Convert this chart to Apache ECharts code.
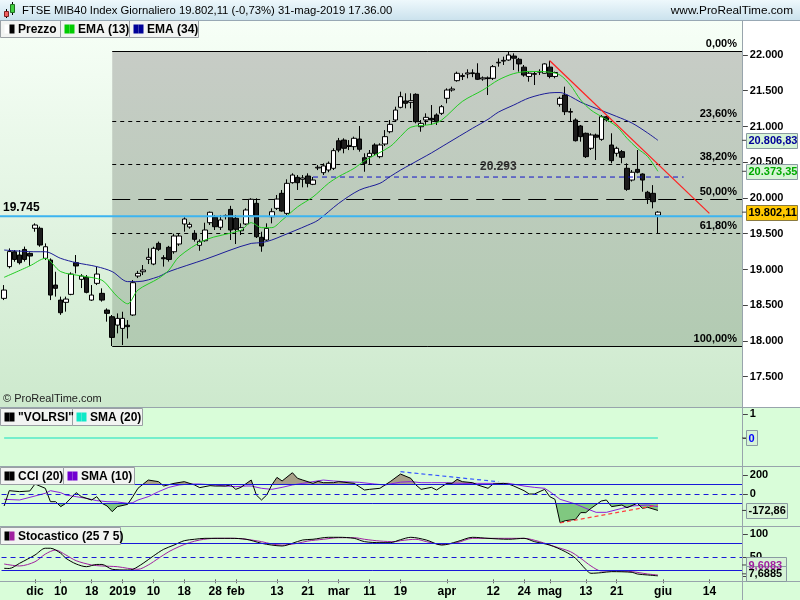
<!DOCTYPE html>
<html><head><meta charset="utf-8">
<script src="https://cdn.jsdelivr.net/npm/echarts@6/dist/echarts.min.js"></script>
<style>html,body{margin:0;padding:0;background:#fff}#c{width:800px;height:600px}</style>
</head><body><div id="c"></div>
<script>
// ---------- DATA ----------
// trading days (categories) 23 Nov 2018 .. 24 Jun 2019
const days = ('2018-11-23 2018-11-26 2018-11-27 2018-11-28 2018-11-29 2018-11-30 ' +
 '2018-12-03 2018-12-04 2018-12-05 2018-12-06 2018-12-07 2018-12-10 2018-12-11 2018-12-12 2018-12-13 2018-12-14 2018-12-17 2018-12-18 2018-12-19 2018-12-20 2018-12-21 2018-12-27 2018-12-28 ' +
 '2019-01-02 2019-01-03 2019-01-04 2019-01-07 2019-01-08 2019-01-09 2019-01-10 2019-01-11 2019-01-14 2019-01-15 2019-01-16 2019-01-17 2019-01-18 2019-01-21 2019-01-22 2019-01-23 2019-01-24 2019-01-25 2019-01-28 2019-01-29 2019-01-30 2019-01-31 ' +
 '2019-02-01 2019-02-04 2019-02-05 2019-02-06 2019-02-07 2019-02-08 2019-02-11 2019-02-12 2019-02-13 2019-02-14 2019-02-15 2019-02-18 2019-02-19 2019-02-20 2019-02-21 2019-02-22 2019-02-25 2019-02-26 2019-02-27 2019-02-28 ' +
 '2019-03-01 2019-03-04 2019-03-05 2019-03-06 2019-03-07 2019-03-08 2019-03-11 2019-03-12 2019-03-13 2019-03-14 2019-03-15 2019-03-18 2019-03-19 2019-03-20 2019-03-21 2019-03-22 2019-03-25 2019-03-26 2019-03-27 2019-03-28 2019-03-29 ' +
 '2019-04-01 2019-04-02 2019-04-03 2019-04-04 2019-04-05 2019-04-08 2019-04-09 2019-04-10 2019-04-11 2019-04-12 2019-04-15 2019-04-16 2019-04-17 2019-04-18 2019-04-23 2019-04-24 2019-04-25 2019-04-26 2019-04-29 2019-04-30 ' +
 '2019-05-02 2019-05-03 2019-05-06 2019-05-07 2019-05-08 2019-05-09 2019-05-10 2019-05-13 2019-05-14 2019-05-15 2019-05-16 2019-05-17 2019-05-20 2019-05-21 2019-05-22 2019-05-23 2019-05-24 2019-05-27 2019-05-28 2019-05-29 2019-05-30 2019-05-31 ' +
 '2019-06-03 2019-06-04 2019-06-05 2019-06-06 2019-06-07 2019-06-10 2019-06-11 2019-06-12 2019-06-13 2019-06-14 2019-06-17 2019-06-18 2019-06-19 2019-06-20 2019-06-21 2019-06-24').split(' ');

const xLabels = {'2018-12-03':'dic','2018-12-10':'10','2018-12-18':'18','2019-01-02':'2019','2019-01-10':'10',
 '2019-01-18':'18','2019-01-28':'28','2019-02-01':'feb','2019-02-13':'13','2019-02-21':'21','2019-03-01':'mar',
 '2019-03-11':'11','2019-03-19':'19','2019-04-01':'apr','2019-04-12':'12','2019-04-24':'24','2019-05-02':'mag',
 '2019-05-13':'13','2019-05-21':'21','2019-06-03':'giu','2019-06-14':'14'};

// daily candles from 23 Nov 2018: [open, close, low, high]
const candles = [
 [18596,18712,18572,18782],[19040,19250,19015,19295],[19248,19140,19108,19272],[19202,19095,19070,19272],[19280,19140,19110,19320],[19225,19188,19050,19240],
 [19576,19622,19528,19645],[19576,19342,19318,19600],[19156,19318,19132,19365],[19132,18642,18572,19155],[18782,18736,18620,18968],
 [18572,18395,18365,18620],[18540,18586,18410,18620],[18652,18936,18640,18960],[19095,19049,18945,19202],[18862,18908,18740,18935],
 [18890,18680,18666,18922],[18572,18642,18560,18782],[18806,18936,18782,19038],[18666,18572,18550,18736],[18432,18386,18270,18456],
 [18339,18050,17929,18363],[18222,18316,18106,18386],
 [18176,18316,17943,18409],[18220,18200,18035,18292],[18363,18815,18350,18852],[18908,18945,18880,18980],[18968,18992,18922,19062],
 [19142,19170,19076,19296],[19076,19296,19060,19318],[19365,19282,19260,19390],[19165,19150,19040,19200],[19310,19140,19110,19330],
 [19248,19468,19220,19500],[19356,19468,19330,19500],[19636,19706,19528,19730],[19594,19631,19570,19660],[19506,19422,19390,19550],
 [19338,19394,19262,19422],[19402,19552,19388,19654],[19654,19800,19622,19810],[19730,19598,19552,19762],[19590,19692,19552,19762],
 [19740,19755,19700,19770],[19840,19552,19412,19890],
 [19716,19562,19356,19762],[19542,19584,19482,19645],[19636,19832,19620,19855],[19752,19982,19740,19996],[19925,19458,19440,19996],
 [19450,19328,19248,19528],[19412,19575,19400,19645],[19738,19808,19645,19855],[19855,19985,19832,20042],[20065,19818,19808,20112],
 [19785,20205,19762,20261],[20214,20321,20200,20345],[20289,20214,20112,20321],[20261,20280,20149,20321],[20307,20205,20149,20345],
 [20191,20251,20180,20293],[20420,20430,20390,20460],[20354,20448,20321,20485],[20391,20485,20360,20510],[20415,20662,20391,20695],
 [20800,20670,20640,20840],[20810,20695,20625,20835],[20720,20735,20670,20810],[20718,20835,20670,20858],[20825,20681,20648,21007],
 [20563,20485,20367,20625],[20578,20625,20461,20671],[20741,20625,20600,20765],[20578,20741,20555,20765],[20755,20858,20727,20950],
 [20927,21030,20905,21091],[21091,21230,21067,21277],[21268,21417,21254,21487],[21357,21324,21254,21464],[21338,21361,21254,21464],
 [21450,21067,21044,21464],[20997,21044,20927,21091],[21091,21128,21021,21184],[21114,21091,21021,21300],[21161,21067,21021,21184],
 [21184,21277,21161,21300],
 [21394,21510,21324,21534],[21510,21525,21487,21557],[21641,21744,21627,21767],[21700,21712,21650,21744],[21735,21750,21674,21800],
 [21750,21740,21690,21800],[21744,21660,21650,21884],[21665,21680,21640,21700],[21680,21670,21440,21700],[21674,21837,21650,21860],
 [21890,21898,21837,21953],[21915,21925,21860,21977],[21930,22000,21920,22052],[21985,21955,21790,22023],[21940,21875,21767,21960],
 [21830,21720,21697,21860],[21700,21745,21627,21767],[21730,21740,21580,21767],[21760,21770,21720,21800],[21744,21875,21740,21884],
 [21830,21700,21674,21920],[21700,21755,21674,21767],[21310,21394,21277,21417],[21440,21207,21160,21557],[21200,21210,21067,21254],
 [21091,20801,20790,21114],[21007,20858,20788,21021],[20905,20578,20560,20914],[20695,20881,20671,20905],[20880,20850,20531,20900],
 [20820,21137,20800,21160],[21137,21091,21067,21150],[20741,20522,20485,20905],[20625,20695,20580,20718],[20648,20569,20485,20671],
 [20415,20121,20100,20485],[20251,20360,20230,20391],[20400,20360,20345,20671],[20335,20251,20088,20345],[20080,19996,19916,20100],
 [20065,19948,19855,20180],[19760,19802.11,19505,19815]
];

// indicator readings: [trading days since 3 Dec 2018, value]
const ema13 = [[-6,18890],[-1,19050],[2,19155],[5,18970],[9,18910],[13,18850],[15,18700],[16,18620],[18,18520],[20,18712],[24,18875],[26,18990],[28,19180],[33,19412],[40,19550],[42,19655],[44,19585],[46,19585],[48,19690],[51,19875],[54,20015],[57,20205],[59,20300],[62,20415],[64,20520],[69,20720],[71,20860],[73,20990],[77,21030],[79,21090],[83,21350],[87,21510],[90,21650],[93,21740],[96,21770],[100,21760],[102,21720],[104,21580],[106,21370],[108,21230],[110,21140],[113,21000],[115,20835],[117,20695],[119,20580],[121,20373.35]];
const ema34 = [[-6,19272],[0,19248],[2,19248],[5,19155],[8,19095],[12,19040],[15,18970],[18,18830],[20,18830],[24,18900],[26,18970],[33,19140],[42,19365],[44,19375],[46,19412],[48,19470],[53,19620],[55,19690],[59,19925],[63,20110],[67,20205],[69,20300],[71,20390],[73,20470],[75,20550],[77,20630],[80,20760],[85,20975],[88,21100],[90,21200],[93,21300],[96,21400],[100,21470],[102,21475],[104,21420],[106,21340],[110,21225],[113,21140],[116,21047],[119,20910],[121,20806.83]];
const trendRed = [[100,21920],[131,19785]];
const resistance = [[54,20293],[126,20293]];
const supportLine = 19745;
const fibLow = [15,17929], fibHigh = [92,22052];
const fibRatios = [0,0.236,0.382,0.5,0.618,1];
const fibText = ['0,00%','23,60%','38,20%','50,00%','61,80%','100,00%'];
const priceTicks = [17500,18000,18500,19000,19500,20000,20500,21000,21500,22000];

const volrsiSma = [[-7,0],[121,0]];
const cci = [[-6,-126],[-5,35],[-3,25],[-1,32],[0,105],[2,60],[3,-81],[4,-81],[5,-133],[6,-98],[8,14],[9,-28],[11,-63],[12,-28],[13,-98],[14,-126],[15,-186],[16,-133],[18,-109],[19,-28],[20,60],[22,147],[24,130],[25,84],[27,112],[29,130],[31,95],[32,67],[34,88],[35,84],[37,84],[38,95],[39,49],[40,70],[42,147],[43,-11],[44,-63],[45,-11],[46,95],[47,175],[48,137],[50,224],[51,165],[52,147],[54,112],[55,133],[56,119],[58,119],[59,130],[62,112],[64,42],[65,49],[67,60],[69,130],[71,210],[73,165],[74,95],[75,49],[77,70],[78,42],[80,112],[81,112],[82,154],[83,130],[85,119],[86,95],[88,60],[89,105],[91,112],[92,105],[93,84],[95,35],[96,0],[97,0],[99,49],[100,-28],[101,-56],[102,-302],[103,-281],[105,-267],[106,-196],[107,-196],[108,-151],[110,-74],[111,-63],[112,-133],[114,-116],[115,-144],[117,-98],[118,-151],[119,-140],[121,-172.86]];
const cciSma = [[-6,-56],[-3,-63],[0,-21],[2,7],[3,35],[5,14],[6,-11],[8,-28],[10,-46],[12,-70],[14,-81],[16,-84],[18,-98],[19,-91],[20,-63],[22,-28],[24,25],[26,70],[28,95],[30,105],[32,105],[35,95],[37,84],[39,77],[41,84],[42,84],[44,60],[46,49],[48,70],[50,95],[52,112],[54,130],[56,147],[58,137],[60,130],[63,123],[66,105],[68,95],[71,125],[73,130],[75,119],[77,119],[80,119],[83,112],[86,112],[90,112],[92,112],[95,84],[97,70],[99,60],[100,25],[102,-56],[105,-105],[107,-151],[109,-193],[111,-193],[114,-151],[116,-126],[119,-116],[121,-133]];
const cciTrendBlue = [[71,235],[90,129]];
const cciTrendRed = [[102,-305],[121,-116]];
const stochK = [[-6,24.4],[-5,24],[-3,35.5],[0,54],[2,69],[3,69],[5,57.8],[6,46.7],[8,34],[10,28],[12,33],[13,33],[15,22.2],[18,20.7],[19,22],[21,35.5],[23,51.8],[25,66.7],[27,76],[29,85.8],[31,88.9],[33,91],[38,91],[41,88.9],[44,80],[46,76],[48,74],[50,80],[52,87.3],[54,88.9],[57,93.3],[59,93.3],[62,91],[64,83.7],[67,81.4],[69,81.4],[71,88],[73,93.3],[76,87.3],[79,76],[82,83.7],[85,93.3],[88,91],[92,88.9],[95,91],[97,83.7],[100,76],[103,61.4],[105,46.7],[107,22],[108,13.3],[110,14.7],[112,17],[116,15.5],[117,11.8],[119,9.6],[121,7.6885]];
const stochD = [[-6,34],[-3,29.6],[0,39],[2,56],[4,65],[6,54],[8,41.3],[11,31.8],[13,29.6],[16,28],[18,24.4],[20,22.2],[22,31.8],[24,46.7],[26,61.4],[28,72.6],[30,81.4],[32,87.3],[35,91],[39,91],[41,88.9],[44,83.7],[46,78.5],[48,76],[51,80],[53,85],[56,88.9],[59,92.4],[62,92.4],[64,88.9],[67,85],[70,83.7],[71,85.8],[74,88.9],[76,83.7],[79,77.3],[82,81.4],[85,91],[90,91],[95,91],[98,83.7],[101,72.6],[104,61.4],[106,46.7],[108,29.6],[110,18.5],[113,18.5],[116,17],[119,11.8],[121,9.6]];

// ---------- CHART ----------
const T0 = 6; // category index of 3 Dec 2018
const sh = a => a.map(p => [Math.max(0, p[0] + T0), p[1]]);
const FONT = "'Liberation Sans', Arial, sans-serif";
const chart = echarts.init(document.getElementById('c'), null, {renderer: 'canvas', width: 800, height: 600});
const GL = 1.54, GW = 741.3;
const gridDefs = [[20,387],[407,59],[466,60],[466,18.5],[503.5,22.5],[526,55]];
const yr = [[17076.2,22489.6],[-1.1667,1.2917],[-336.84,294.74],[100,294.74],[-336.84,-100],[-3.78,118.4]];
const lblStyle = {color:'#000', fontWeight:'bold', fontSize:11, fontFamily:FONT, margin:7};

const xAxes = gridDefs.map((g,i) => ({
  type:'category', gridIndex:i, data:days, boundaryGap:true,
  axisLine:{show:false}, splitLine:{show:false},
  axisTick: i===5 ? {show:true, alignWithLabel:true, length:4, lineStyle:{color:'#666'}, interval:(idx,v)=>xLabels[v]!==undefined} : {show:false},
  axisLabel: i===5 ? {show:true, interval:(idx,v)=>xLabels[v]!==undefined, formatter:v=>xLabels[v]||'', color:'#000', fontWeight:'bold', fontSize:12, fontFamily:FONT, margin:5} : {show:false}
}));
const tickVals = [priceTicks,[1,0],[200,0,-172.86],null,null,[100,50,7.6885]];
const lblVals = [priceTicks,[1],[200,0],null,null,[100,50]];
const yAxes = gridDefs.map((g,i) => ({
  type:'value', gridIndex:i, position:'right', min:yr[i][0], max:yr[i][1],
  axisLine:{show:false}, splitLine:{show:false},
  axisTick: tickVals[i] ? {show:true, length:5, lineStyle:{color:'#444'}, customValues:tickVals[i]} : {show:false},
  axisLabel: lblVals[i] ? Object.assign({show:true, customValues:lblVals[i], formatter: i===0 ? (v=>(v/1000).toFixed(3)) : (v=>String(v))}, lblStyle) : {show:false}
}));

const ln = (gi, data, color, extra) => Object.assign({type:'line', xAxisIndex:gi, yAxisIndex:gi, data:data, symbol:'none', silent:true,
  lineStyle:{color:color, width:1}, itemStyle:{color:color}}, extra||{});
const hl = (v, dashed) => ({yAxis:v, lineStyle:{color:'#1818d8', width:1, type: dashed ? [5,4] : 'solid'}});

const series = [
  ln(0, sh(resistance), '#1010c8', {lineStyle:{color:'#1010c8', width:1, type:[5,4]}}),
  ln(0, sh(ema34), '#1c1c98', {smooth:0.3}),
  ln(0, sh(ema13), '#22cc22', {smooth:0.3}),
  {type:'candlestick', xAxisIndex:0, yAxisIndex:0, data:candles, barWidth:5, silent:true,
    itemStyle:{color:'#ffffff', color0:'#1c1c1c', borderColor:'#000', borderColor0:'#000', borderWidth:1}},
  ln(0, sh(trendRed), '#ff2020', {lineStyle:{color:'#ff2020', width:1.2}}),
  ln(1, sh(volrsiSma), '#10e0c0', {lineStyle:{color:'#10e0c0', width:1.2}}),
  ln(3, sh(cci), '#a8a088', {lineStyle:{opacity:0, width:0}, areaStyle:{color:'#a8a088', opacity:1, origin:'start'}, clip:true}),
  ln(4, sh(cci), '#80c880', {lineStyle:{opacity:0, width:0}, areaStyle:{color:'#80c880', opacity:1, origin:'end'}, clip:true}),
  ln(2, sh(cciSma), '#8a22dc'),
  ln(2, sh(cci), '#000', {markLine:{silent:true, symbol:'none', label:{show:false}, data:[hl(100),hl(0,true),hl(-100)]}}),
  ln(2, sh(cciTrendBlue), '#3355ff', {lineStyle:{color:'#3355ff', width:1.2, type:[4,3]}}),
  ln(2, sh(cciTrendRed), '#ff4040', {lineStyle:{color:'#ff4040', width:1.2, type:[4,3]}}),
  ln(5, sh(stochD), '#a020a0', {smooth:0.3}),
  ln(5, sh(stochK), '#000', {smooth:0.3, markLine:{silent:true, symbol:'none', label:{show:false}, data:[hl(80),hl(50,true),hl(20)]}})
];

chart.setOption({
  animation:false, backgroundColor:'#d9fdd9',
  grid: gridDefs.map(g => ({left:GL, width:GW, top:g[0], height:g[1]})),
  xAxis:xAxes, yAxis:yAxes, series:series
});

// ---------- decorations positioned via the chart's own scales ----------
const P = (g, x, y) => chart.convertToPixel({xAxisIndex:g, yAxisIndex:g}, [x, y]);
const R = (x,y,w,h,fill,stroke,z) => ({type:'rect', z:z, silent:true, shape:{x:x,y:y,width:w,height:h}, style:{fill:fill, stroke:stroke||null, lineWidth:1}});
const L = (x1,y1,x2,y2,stroke,lw,dash,z) => ({type:'line', z:z, silent:true, shape:{x1:x1,y1:y1,x2:x2,y2:y2}, style:{stroke:stroke, lineWidth:lw||1, lineDash:dash||null}});
const T = (x,y,text,o) => { o=o||{}; return {type:'text', z:o.z||40, silent:true, style:{x:x, y:y, text:text,
  font:o.font||('bold 11px '+FONT), fill:o.fill||'#000', align:o.align||'left', textAlign:o.align||'left', verticalAlign:'middle', textVerticalAlign:'middle'}}; };
const grad = (a,b) => ({type:'linear', x:0, y:0, x2:0, y2:1, colorStops:[{offset:0,color:a},{offset:1,color:b}]});

const G = [];
G.push(R(0,20,742,387, grad('#f7fff7','#cde9cd'), null, -20));
G.push(R(742,20,58,387,'#ffffff',null,-20));
// fibonacci zone
const xLow = P(0, fibLow[0]+T0, fibLow[1])[0];
const yHi = P(0, 0, fibHigh[1])[1], yLo = P(0, 0, fibLow[1])[1];
G.push(R(xLow, yHi, 742-xLow, yLo-yHi, grad('#c7ccc6','#b2cbb2'), null, -19));
fibRatios.forEach((r,i) => {
  const v = fibHigh[1] - r*(fibHigh[1]-fibLow[1]);
  const y = Math.round(P(0,0,v)[1]) + 0.5;
  const dash = (r===0||r===1) ? null : (r===0.5 ? [18,8] : [4,4]);
  G.push(L(xLow, y, 742, y, '#000', 1, dash, -18));
  G.push(T(737, y-8, fibText[i], {align:'right', z:-17}));
});
// support line 19.745
const ySup = P(0,0,supportLine)[1];
G.push(L(0, ySup, 742, ySup, '#3cb4f0', 2, null, 30));
G.push(T(3, ySup-9, '19.745', {font:'bold 12px '+FONT}));
// resistance label
const rx = (P(0, resistance[0][0]+T0, 0)[0] + P(0, resistance[1][0]+T0, 0)[0]) / 2;
G.push(T(rx, P(0,0,resistance[0][1])[1]-10, '20.293', {align:'center', fill:'#333', font:'bold 12px '+FONT}));
G.push(T(3, 399, '\u00a9 ProRealTime.com', {font:'11px '+FONT, fill:'#222'}));

// header
G.push(R(0,0,800,20, grad('#eef8fc','#cbe2ed'), null, 50));
G.push(L(0,20.5,800,20.5,'#98a8b4',1,null,51));
G.push(L(6.5,9,6.5,18,'#000',1,null,52)); G.push(R(4.5,11.5,4,5,'#f06060','#802020',53));
G.push(L(12.5,2,12.5,15,'#000',1,null,52)); G.push(R(10.5,4.5,4,8,'#40d040','#207020',53));
G.push(T(22, 11, 'FTSE MIB40 Index Giornaliero 19.802,11 (-0,73%) 31-mag-2019 17.36.00', {font:'11.3px '+FONT, z:54}));
G.push(T(793, 11, 'www.ProRealTime.com', {font:'11.8px '+FONT, align:'right', z:54}));

// legend boxes
function legend(x, y, w, label, sq1, sq2) {
  G.push(R(x+0.5, y+0.5, w, 17, '#f2f4f2', '#9aa0a4', 45));
  G.push(R(x+4.5, y+4.5, 5, 9, sq1, null, 46));
  G.push(R(x+9.5, y+4.5, 5, 9, sq2, null, 46));
  G.push(T(x+18, y+9.5, label, {font:'bold 12px '+FONT, z:47}));
}
legend(0,20,60,'Prezzo','#ffffff','#000000');
legend(60,20,69,'EMA (13)','#00cc00','#00cc00');
legend(129,20,69,'EMA (34)','#000099','#000099');
legend(0,408,72,'"VOLRSI"','#000','#000');
legend(72,408,70,'SMA (20)','#10e8c8','#10e8c8');
legend(0,467,63,'CCI (20)','#000','#000');
legend(63,467,71,'SMA (10)','#7000d0','#7000d0');
legend(0,527,120,'Stocastico (25 7 5)','#000','#a020a0');

// panel separators
[407,466,526,581].forEach(y => G.push(L(0,y+0.5,800,y+0.5,'#98a4ac',1,null,35)));
G.push(L(742.5,20,742.5,600,'#98a4ac',1,null,35));

// value boxes on right axis
function vbox(y, w, text, fill, stroke, color) {
  G.push(L(742,y,747,y,'#444',1,null,55));
  G.push(R(746.5, Math.round(y-7.5)+0.5, w, 15, fill, stroke, 56));
  G.push(T(748.5, y+0.5, text, {fill:color, z:57}));
}
vbox(P(0,0,ema34[ema34.length-1][1])[1], 51, '20.806,83', '#d6f4d6', '#8a9aa2', '#000099');
vbox(P(0,0,ema13[ema13.length-1][1])[1], 51, '20.373,35', '#d6f4d6', '#8a9aa2', '#00aa00');
vbox(P(0,0,candles[candles.length-1][1])[1], 51, '19.802,11', '#ffc800', '#8a7a40', '#000');
vbox(P(1,0,volrsiSma[1][1])[1], 11, '0', '#d6f4d6', '#8a9aa2', '#0000ff');
vbox(P(2,0,cci[cci.length-1][1])[1], 41, '-172,86', '#d6f4d6', '#8a9aa2', '#000');
vbox(P(5,0,stochD[stochD.length-1][1])[1]-10, 40, '9,6083', '#d6f4d6', '#8a9aa2', '#a020a0');
vbox(P(5,0,stochK[stochK.length-1][1])[1]-2, 40, '7,6885', '#d6f4d6', '#8a9aa2', '#000');

chart.setOption({graphic:{elements:G}});
</script></body></html>
